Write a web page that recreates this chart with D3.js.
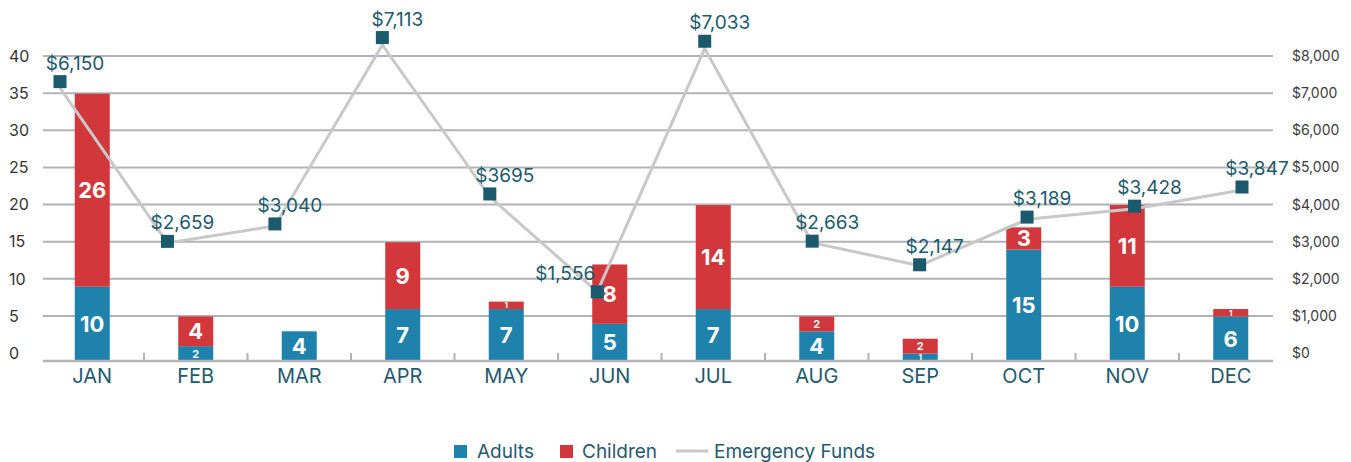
<!DOCTYPE html>
<meta charset="utf-8">
<head>
    <title>Adults, Children and Emergency Funds</title>
    <script type="text/javascript" src="https://d3js.org/d3.v7.min.js"></script>
    <style>
        body { margin: 0; background: #fff; }
        svg text { font-family: Inter, Roboto, sans-serif; }
    </style>
</head>
<body>
    <div id="chart"></div>
    <script>
        // data
        var months = ["JAN", "FEB", "MAR", "APR", "MAY", "JUN", "JUL", "AUG", "SEP", "OCT", "NOV", "DEC"];
        var adults = [10, 2, 4, 7, 7, 5, 7, 4, 1, 15, 10, 6];
        var children = [26, 4, 0, 9, 1, 8, 14, 2, 2, 3, 11, 1];
        var funds = [6150, 2659, 3040, 7113, 3695, 1556, 7033, 2663, 2147, 3189, 3428, 3847];
        var fundLabels = ["$6,150", "$2,659", "$3,040", "$7,113", "$3695", "$1,556", "$7,033", "$2,663", "$2,147", "$3,189", "$3,428", "$3,847"];
        var leftTicks = [0, 5, 10, 15, 20, 25, 30, 35, 40];
        var rightTicks = [0, 1000, 2000, 3000, 4000, 5000, 6000, 7000, 8000];

        var w = 1351, h = 462;
        var blue = "#1f82ad", red = "#d1373b", teal = "#1b5a6d", grid = "#b2b2b8";

        var svg = d3.select("#chart").append("svg")
            .attr("width", w).attr("height", h);

        // scales
        var x = d3.scaleBand().domain(months).range([40.5, 1282.5]);
        var y = d3.scaleLinear().domain([0, 40]).range([353, 56]);
        var yRight = d3.scaleLinear().domain([0, 8000]).range([353, 56]);
        var xPt = d3.scalePoint().domain(months).range([60, 1242]);
        var yMark = d3.scaleLinear().domain([0, 8000]).range([363, -3]);
        var yLine = d3.scaleLinear().domain([0, 8000]).range([361, 5.6]);
        var base = 361;
        var barW = 35;

        // gridlines
        svg.append("g").selectAll("line")
            .data(leftTicks.filter(function (d) { return d > 0; }))
            .enter().append("line")
            .attr("x1", 43).attr("x2", 1273)
            .attr("y1", function (d) { return y(d); })
            .attr("y2", function (d) { return y(d); })
            .attr("stroke", grid).attr("stroke-width", 2);

        // left labels
        svg.append("g").selectAll("text")
            .data(leftTicks)
            .enter().append("text")
            .attr("x", 9)
            .attr("y", function (d) { return y(d); })
            .attr("dy", "0.36em")
            .attr("font-size", 16)
            .attr("fill", "#333")
            .text(function (d) { return d; });

        // right labels
        svg.append("g").selectAll("text")
            .data(rightTicks)
            .enter().append("text")
            .attr("x", 1292)
            .attr("y", function (d) { return yRight(d); })
            .attr("dy", "0.36em")
            .attr("font-size", 14)
            .attr("fill", "#3c3c3c")
            .text(function (d) { return "$" + d3.format(",")(d); });

        // stacked bars
        var rows = months.map(function (m, i) {
            return { m: m, segs: [
                { v: adults[i], y0: 0, c: blue },
                { v: children[i], y0: adults[i], c: red }
            ] };
        });
        var px = function (v) { return y(0) - y(v); };
        var segsOf = function (d) {
            return d.segs.filter(function (s) { return s.v > 0; })
                .map(function (s) { return Object.assign({ m: d.m }, s); });
        };

        var groups = svg.append("g").selectAll("g")
            .data(rows).enter().append("g");

        groups.selectAll("rect")
            .data(segsOf)
            .enter().append("rect")
            .attr("x", function (d) { return x(d.m) + x.bandwidth() / 2 - barW / 2; })
            .attr("width", barW)
            .attr("y", function (d) { return base - px(d.y0 + d.v); })
            .attr("height", function (d) { return px(d.v); })
            .attr("fill", function (d) { return d.c; });

        groups.selectAll("text")
            .data(segsOf)
            .enter().append("text")
            .attr("x", function (d) { return x(d.m) + x.bandwidth() / 2; })
            .attr("y", function (d) { return base - px(d.y0 + d.v / 2); })
            .attr("dy", "0.36em")
            .attr("text-anchor", "middle")
            .attr("fill", "#fff")
            .attr("font-weight", "bold")
            .attr("font-size", function (d) {
                var hh = px(d.v);
                return hh < 10 ? 8 : (hh < 20 ? 11 : 22);
            })
            .text(function (d) { return d.v; });

        // x axis line and ticks
        svg.append("line")
            .attr("x1", 43).attr("x2", 1273)
            .attr("y1", base).attr("y2", base)
            .attr("stroke", grid).attr("stroke-width", 2.5);
        svg.append("g").selectAll("line")
            .data(months.slice(1))
            .enter().append("line")
            .attr("x1", function (d) { return x(d); })
            .attr("x2", function (d) { return x(d); })
            .attr("y1", 353).attr("y2", base)
            .attr("stroke", grid).attr("stroke-width", 2);

        svg.append("g").selectAll("text")
            .data(months)
            .enter().append("text")
            .attr("x", function (d) { return x(d) + x.bandwidth() / 2; })
            .attr("y", 383)
            .attr("text-anchor", "middle")
            .attr("font-size", 20)
            .attr("fill", "#245a6e")
            .text(function (d) { return d; });

        // emergency funds line
        var line = d3.line()
            .x(function (d, i) { return xPt(months[i]); })
            .y(function (d) { return yLine(d); });
        svg.append("path")
            .datum(funds)
            .attr("d", line)
            .attr("fill", "none")
            .attr("stroke", "#c8c8c8")
            .attr("stroke-width", 3);

        svg.append("g").selectAll("rect")
            .data(funds)
            .enter().append("rect")
            .attr("x", function (d, i) { return xPt(months[i]) - 6.5; })
            .attr("y", function (d) { return yMark(d) - 6.5; })
            .attr("width", 13).attr("height", 13)
            .attr("fill", teal);

        // JUN label sits to the left of its marker
        var leftLabel = ["JUN"];
        svg.append("g").selectAll("text")
            .data(funds)
            .enter().append("text")
            .attr("x", function (d, i) {
                return leftLabel.indexOf(months[i]) >= 0 ? xPt(months[i]) - 2 : xPt(months[i]) + 15;
            })
            .attr("y", function (d) { return yMark(d) - 12; })
            .attr("text-anchor", function (d, i) { return leftLabel.indexOf(months[i]) >= 0 ? "end" : "middle"; })
            .attr("font-size", 19)
            .attr("fill", teal)
            .text(function (d, i) { return fundLabels[i]; });

        // legend
        var legend = svg.append("g");
        legend.append("rect").attr("x", 454).attr("y", 445).attr("width", 13).attr("height", 13).attr("fill", blue);
        legend.append("text").attr("x", 477).attr("y", 458).attr("font-size", 19).attr("fill", "#245a6e").text("Adults");
        legend.append("rect").attr("x", 560).attr("y", 445).attr("width", 13).attr("height", 13).attr("fill", red);
        legend.append("text").attr("x", 582).attr("y", 458).attr("font-size", 19).attr("fill", "#245a6e").text("Children");
        legend.append("line").attr("x1", 676).attr("x2", 708).attr("y1", 451).attr("y2", 451).attr("stroke", "#c8c8c8").attr("stroke-width", 3);
        legend.append("text").attr("x", 714).attr("y", 458).attr("font-size", 19).attr("fill", "#245a6e").text("Emergency Funds");
    </script>
</body>
</html>
